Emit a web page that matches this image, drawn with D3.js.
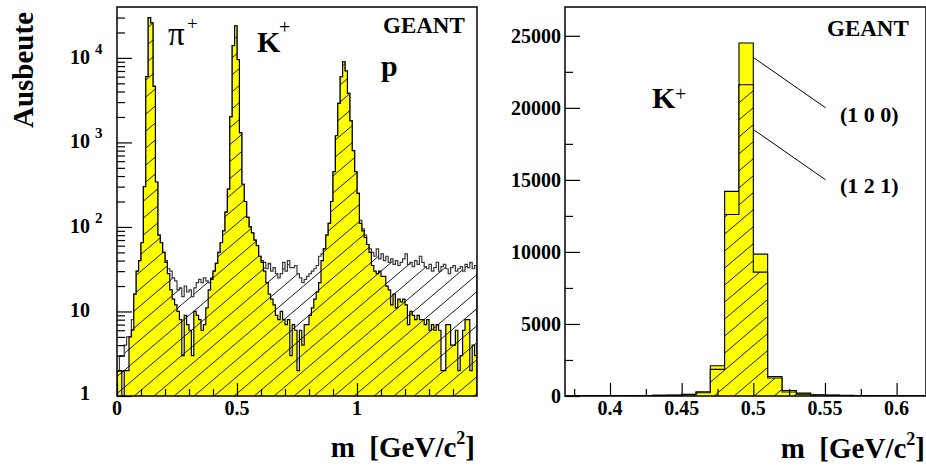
<!DOCTYPE html>
<html>
<head>
<meta charset="utf-8">
<script src="https://cdn.jsdelivr.net/npm/d3@7"></script>
<style>
  html, body { margin: 0; padding: 0; background: #fff; }
  svg { display: block; }
  text { font-family: "Liberation Serif", "Times New Roman", serif; fill: #000; }
</style>
</head>
<body>
<svg id="chart" width="926" height="467"></svg>
<script>
// ---- Mass spectrum (left): 0.01 GeV bins starting at 0 GeV ----
const spectrumStart = 0;
const spectrumBinWidth = 0.01;
// all reconstructed tracks (white, hatched)
const spectrumAll = [
  2, 3, 3, 4, 5, 5, 8, 16, 30, 40,
  65, 300, 6000, 30000, 26000, 4600, 340, 80, 65, 50,
  40, 32, 30, 25, 23, 18, 19, 15, 20, 17,
  18, 15, 19, 22, 24, 22, 25, 23, 22, 25,
  30, 37, 50, 65, 90, 150, 280, 2000, 14000, 24000,
  9500, 1300, 320, 200, 130, 100, 85, 70, 60, 45,
  40, 38, 32, 37, 30, 33, 28, 25, 28, 38,
  30, 40, 33, 33, 35, 28, 25, 22, 24, 26,
  28, 30, 32, 35, 45, 48, 55, 80, 110, 200,
  450, 1200, 2900, 6000, 9000, 7000, 3800, 1800, 800, 450,
  250, 120, 95, 80, 60, 55, 50, 45, 55, 42,
  48, 40, 45, 38, 42, 36, 40, 35, 38, 42,
  48, 36, 38, 34, 40, 36, 45, 38, 34, 32,
  36, 30, 33, 38, 30, 34, 36, 32, 28, 33,
  35, 30, 32, 34, 30, 36, 33, 38, 32, 35
];
// identified tracks (yellow, hatched)
const spectrumIdentified = [
  2, 2, 1, 2, 2, 5, 6, 16, 30, 40,
  65, 300, 6000, 30000, 26000, 4600, 340, 80, 65, 50,
  38, 28, 18, 14, 12, 10, 8, 3, 9, 7,
  6, 3, 10, 9, 8, 6, 7, 11, 18, 24,
  30, 37, 50, 65, 90, 150, 280, 2000, 14000, 24000,
  9500, 1300, 320, 200, 130, 100, 85, 70, 60, 45,
  38, 30, 22, 16, 14, 12, 9, 8, 10, 8,
  7, 8, 3, 7, 6, 2, 6, 4, 7, 7,
  9, 11, 14, 17, 22, 40, 55, 80, 110, 200,
  450, 1200, 2900, 6000, 9000, 7000, 3800, 1800, 800, 450,
  250, 110, 90, 75, 62, 50, 35, 30, 28, 30,
  26, 26, 20, 18, 12, 16, 11, 14, 13, 14,
  12, 7, 10, 9, 8, 9, 8, 8, 7, 8,
  6, 7, 6, 7, 6, 2, 2, 7, 7, 4,
  4, 6, 2, 3, 6, 8, 8, 2, 4, 3
];
const spectrumXTicks = [0, 0.5, 1];
const spectrumXTickLabels = ["0", "0.5", "1"];
const spectrumYDecades = [1, 10, 100, 1000, 10000];

// ---- K+ peak (right): 0.01 GeV bins starting at 0.37 GeV ----
const kaonStart = 0.37;
const kaonBinWidth = 0.01;
const kaon100 = [
  5, 8, 10, 15, 25, 35, 50, 70, 120, 300,
  2100, 14200, 24500, 9850, 1350, 380, 200, 90, 60, 40,
  30, 25, 20, 15, 12
];
const kaon121 = [
  4, 6, 8, 12, 20, 28, 40, 55, 95, 230,
  1850, 12600, 21600, 8600, 1250, 280, 130, 70, 45, 30,
  25, 20, 15, 12, 10
];
const kaonXTicks = [0.4, 0.45, 0.5, 0.55, 0.6];
const kaonXTickLabels = ["0.4", "0.45", "0.5", "0.55", "0.6"];
const kaonYTicks = [0, 5000, 10000, 15000, 20000, 25000];

const svg = d3.select("#chart");
const defs = svg.append("defs");

// diagonal hatching shared by the hatched histograms
const hatch = defs.append("pattern")
  .attr("id", "hatch")
  .attr("patternUnits", "userSpaceOnUse")
  .attr("width", 20).attr("height", 17);
hatch.append("path")
  .attr("d", "M-2,18.7 L22,-1.7 M-22,18.7 L2,-1.7 M18,18.7 L42,-1.7")
  .attr("stroke", "#000").attr("stroke-width", 0.9).attr("fill", "none");

// ---------- Left panel ----------
const L = { left: 117, right: 477, top: 7, bottom: 396 };
const xL = d3.scaleLinear().domain([0, 1.5]).range([L.left, L.right]);
const yL = d3.scaleLog().domain([1, 40000]).range([L.bottom, L.top]);

defs.append("clipPath").attr("id", "clipL").append("rect")
  .attr("x", L.left).attr("y", L.top).attr("width", L.right - L.left).attr("height", L.bottom - L.top);

function stepPoints(values, start, width) {
  const pts = values.map((v, i) => ({ x: start + i * width, v }));
  pts.push({ x: start + values.length * width, v: values[values.length - 1] });
  return pts;
}

// turns bin-start points into explicit corner points of a step outline
function expandSteps(pts) {
  const out = [pts[0]];
  for (let i = 1; i < pts.length; i++) {
    out.push({ x: pts[i].x, v: pts[i - 1].v });
    out.push(pts[i]);
  }
  return out;
}

function drawHist(g, values, start, width, x, y, base, fill, stroke, hatched, sw) {
  const pts = stepPoints(values, start, width);
  const area = d3.area().curve(d3.curveStepAfter)
    .x(d => x(d.x)).y0(y(base)).y1(d => y(d.v));
  g.append("path").datum(pts).attr("d", area).attr("fill", fill);
  if (hatched) g.append("path").datum(pts).attr("d", area).attr("fill", "url(#hatch)");
  const outline = [{ x: pts[0].x, v: base }].concat(pts);
  outline.push({ x: pts[pts.length - 1].x, v: base });
  g.append("path")
    .attr("d", d3.line().x(d => x(d.x)).y(d => y(d.v))(expandSteps(outline)))
    .attr("fill", "none").attr("stroke", stroke).attr("stroke-width", sw)
    .attr("stroke-linejoin", "miter");
}

const gL = svg.append("g").attr("clip-path", "url(#clipL)");
drawHist(gL, spectrumAll, spectrumStart, spectrumBinWidth, xL, yL, 1, "#fff", "#3a3a3a", true, 1.2);
drawHist(gL, spectrumIdentified, spectrumStart, spectrumBinWidth, xL, yL, 1, "#ffff00", "#000", true, 1.2);

// ticks pointing into the frame
const minorLog = [];
spectrumYDecades.forEach(d => { for (let k = 2; k <= 9; k++) if (d * k < 40000) minorLog.push(d * k); });
function styleAxis(g) {
  g.select(".domain").remove();
  g.selectAll(".tick line").attr("stroke", "#000").attr("stroke-width", 1.2);
  g.selectAll(".tick text").remove();
}
svg.append("g").attr("transform", `translate(${L.left},0)`)
  .call(d3.axisLeft(yL).tickValues(spectrumYDecades).tickSize(-15).tickFormat("")).call(styleAxis);
svg.append("g").attr("transform", `translate(${L.left},0)`)
  .call(d3.axisLeft(yL).tickValues(minorLog).tickSize(-8).tickFormat("")).call(styleAxis);
svg.append("g").attr("transform", `translate(0,${L.bottom})`)
  .call(d3.axisBottom(xL).tickValues(spectrumXTicks).tickSize(-13).tickFormat("")).call(styleAxis);
svg.append("g").attr("transform", `translate(0,${L.bottom})`)
  .call(d3.axisBottom(xL).tickValues(d3.range(1, 15).map(i => i / 10).filter(v => v !== 0.5 && v !== 1))
    .tickSize(-7).tickFormat("")).call(styleAxis);

svg.append("rect").attr("x", L.left).attr("y", L.top)
  .attr("width", L.right - L.left).attr("height", L.bottom - L.top)
  .attr("fill", "none").attr("stroke", "#000").attr("stroke-width", 1.5);

// y tick labels: 1, 10, 10^2 ...
spectrumYDecades.forEach((d, i) => {
  const ty = yL(d) + 6;
  svg.append("text").attr("x", 90).attr("y", i === 0 ? yL(d) + 4 : ty)
    .attr("text-anchor", "end").attr("font-size", 20).attr("font-weight", "bold")
    .text(i === 0 ? "1" : "10");
  if (i >= 2) {
    svg.append("text").attr("x", 95).attr("y", ty - 10)
      .attr("font-size", 15).attr("font-weight", "bold").text(String(i));
  }
});
spectrumXTicks.forEach((t, i) => {
  svg.append("text").attr("x", xL(t)).attr("y", 415).attr("text-anchor", "middle")
    .attr("font-size", 20).attr("font-weight", "bold").text(spectrumXTickLabels[i]);
});

// panel annotations
svg.append("text").attr("x", 168).attr("y", 45).attr("font-size", 33).text("π");
svg.append("text").attr("x", 187).attr("y", 30).attr("font-size", 19).text("+");
svg.append("text").attr("x", 257).attr("y", 52).attr("font-size", 30).attr("font-weight", "bold").text("K");
svg.append("text").attr("x", 279).attr("y", 34).attr("font-size", 20).text("+");
svg.append("text").attr("x", 381).attr("y", 76).attr("font-size", 30).attr("font-weight", "bold").text("p");
svg.append("text").attr("x", 383).attr("y", 33).attr("font-size", 23).attr("font-weight", "bold").text("GEANT");

// axis titles
svg.append("text").attr("transform", "translate(33,70) rotate(-90)")
  .attr("text-anchor", "middle").attr("font-size", 29).attr("font-weight", "bold").text("Ausbeute");

function massTitle(xEnd, yBase) {
  const t = svg.append("text").attr("x", xEnd).attr("y", yBase).attr("text-anchor", "end")
    .attr("font-size", 29).attr("font-weight", "bold").attr("xml:space", "preserve")
    .style("white-space", "pre");
  t.append("tspan").text("m  [GeV/c");
  t.append("tspan").attr("dy", -13).attr("font-size", 18).text("2");
  t.append("tspan").attr("dy", 13).text("]");
}
massTitle(475, 457);

// ---------- Right panel ----------
const R = { left: 565, right: 926, top: 7, bottom: 396 };
const xR = d3.scaleLinear().domain([0.3686, 0.6205]).range([R.left, R.right]);
const yR = d3.scaleLinear().domain([0, 27000]).range([R.bottom, R.top]);

defs.append("clipPath").attr("id", "clipR").append("rect")
  .attr("x", R.left).attr("y", R.top).attr("width", R.right - R.left).attr("height", R.bottom - R.top);

const gR = svg.append("g").attr("clip-path", "url(#clipR)");
drawHist(gR, kaon100, kaonStart, kaonBinWidth, xR, yR, 0, "#ffff00", "#000", false, 1.1);
drawHist(gR, kaon121, kaonStart, kaonBinWidth, xR, yR, 0, "#ffff00", "#000", true, 1.1);

svg.append("g").attr("transform", `translate(${R.left},0)`)
  .call(d3.axisLeft(yR).tickValues(kaonYTicks).tickSize(-15).tickFormat("")).call(styleAxis);
svg.append("g").attr("transform", `translate(${R.left},0)`)
  .call(d3.axisLeft(yR).tickValues([2500, 7500, 12500, 17500, 22500]).tickSize(-8).tickFormat("")).call(styleAxis);
svg.append("g").attr("transform", `translate(0,${R.bottom})`)
  .call(d3.axisBottom(xR).tickValues(kaonXTicks).tickSize(-13).tickFormat("")).call(styleAxis);
svg.append("g").attr("transform", `translate(0,${R.bottom})`)
  .call(d3.axisBottom(xR).tickValues([0.375, 0.425, 0.475, 0.525, 0.575]).tickSize(-7).tickFormat("")).call(styleAxis);

svg.append("rect").attr("x", R.left).attr("y", R.top)
  .attr("width", R.right - R.left).attr("height", R.bottom - R.top)
  .attr("fill", "none").attr("stroke", "#000").attr("stroke-width", 1.5);

kaonYTicks.forEach(t => {
  svg.append("text").attr("x", 561).attr("y", yR(t) + 7).attr("text-anchor", "end")
    .attr("font-size", 20).attr("font-weight", "bold").text(String(t));
});
kaonXTicks.forEach((t, i) => {
  svg.append("text").attr("x", xR(t)).attr("y", 415).attr("text-anchor", "middle")
    .attr("font-size", 20).attr("font-weight", "bold").text(kaonXTickLabels[i]);
});

svg.append("text").attr("x", 827).attr("y", 36).attr("font-size", 23).attr("font-weight", "bold").text("GEANT");
svg.append("text").attr("x", 652).attr("y", 108).attr("font-size", 30).attr("font-weight", "bold").text("K");
svg.append("text").attr("x", 675).attr("y", 101).attr("font-size", 20).text("+");

// leader lines to the two histograms
const leaders = [
  { label: "(1 0 0)", from: [0.50, 23500], to: [0.5505, 20000], textY: 122 },
  { label: "(1 2 1)", from: [0.50, 18500], to: [0.5505, 15000], textY: 193 }
];
leaders.forEach(l => {
  svg.append("line")
    .attr("x1", xR(l.from[0])).attr("y1", yR(l.from[1]))
    .attr("x2", xR(l.to[0])).attr("y2", yR(l.to[1]))
    .attr("stroke", "#000").attr("stroke-width", 1);
  svg.append("text").attr("x", 840).attr("y", l.textY).attr("font-size", 22)
    .attr("font-weight", "bold").attr("xml:space", "preserve").style("white-space", "pre").text(l.label);
});

massTitle(925, 458);
</script>
</body>
</html>
